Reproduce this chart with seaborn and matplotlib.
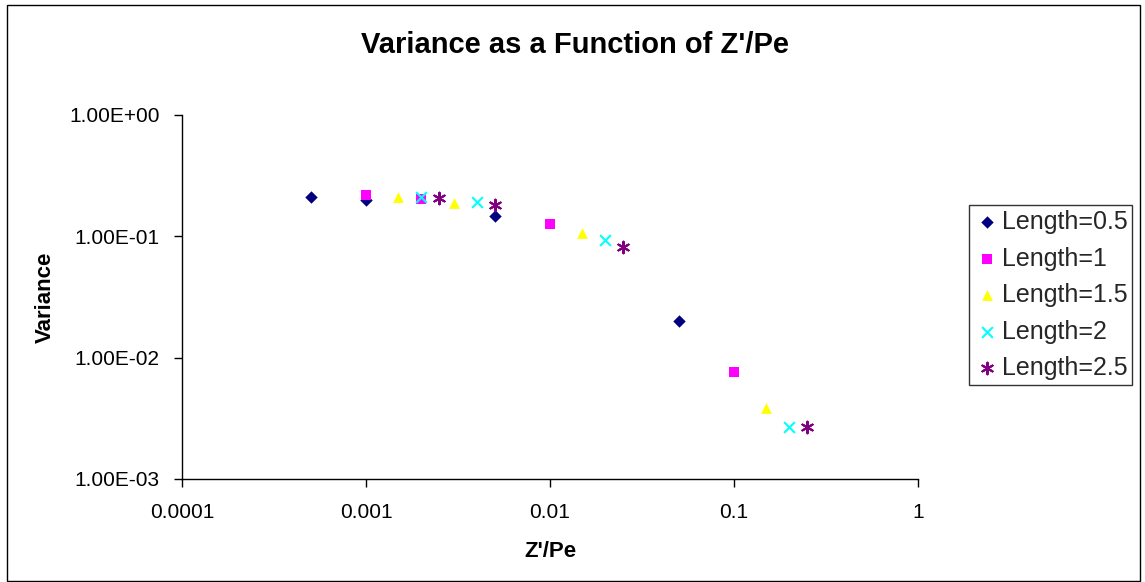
import pandas as pd
import matplotlib.pyplot as plt
import seaborn as sns
from matplotlib.patches import Rectangle
from matplotlib.ticker import FixedLocator, FuncFormatter, NullLocator

# Values
zpe_05 = [0.0005, 0.001, 0.005, 0.05]
var_05 = [0.211, 0.199, 0.147, 0.020]
zpe_1 = [0.001, 0.002, 0.01, 0.1]
var_1 = [0.219, 0.203, 0.126, 0.0076]
zpe_15 = [0.0015, 0.003, 0.015, 0.15]
var_15 = [0.211, 0.188, 0.106, 0.00385]
zpe_2 = [0.002, 0.004, 0.02, 0.2]
var_2 = [0.211, 0.192, 0.093, 0.00268]
zpe_25 = [0.0025, 0.005, 0.025, 0.25]
var_25 = [0.207, 0.181, 0.0816, 0.00268]

series = ["Length=0.5", "Length=1", "Length=1.5", "Length=2", "Length=2.5"]
xs = [zpe_05, zpe_1, zpe_15, zpe_2, zpe_25]
ys = [var_05, var_1, var_15, var_2, var_25]

df = pd.concat(
    [pd.DataFrame({"Z'/Pe": x, "Variance": y, "Series": s}) for s, x, y in zip(series, xs, ys)],
    ignore_index=True,
)

sns.set_theme(style="white")
plt.rcParams['font.family'] = ['Liberation Sans', 'DejaVu Sans']

palette = dict(zip(series, ["#000080", "#FF00FF", "#FFFF00", "#00FFFF", "#800080"]))
markers = dict(zip(series, ["D", "s", "^", "x", (6, 2, 0)]))
sizes = {"Length=0.5": 40, "Length=1": 45, "Length=1.5": 60, "Length=2": 60, "Length=2.5": 70}

fig = plt.figure(figsize=(11.45, 5.82), dpi=100)
ax = fig.add_axes([182 / 1145, 1 - 479 / 582, (918 - 182) / 1145, (479 - 115) / 582])

for s in series:
    sub = df[df["Series"] == s]
    sns.scatterplot(data=sub, x="Z'/Pe", y="Variance", color=palette[s], marker=markers[s],
                    s=sizes[s], linewidth=1.5 if s in ("Length=2", "Length=2.5") else 0,
                    edgecolor=palette[s], label=s, ax=ax)

ax.set_xscale("log")
ax.set_yscale("log")
ax.set_xlim(0.0001, 1)
ax.set_ylim(0.001, 1)

ax.xaxis.set_major_locator(FixedLocator([0.0001, 0.001, 0.01, 0.1, 1]))
ax.xaxis.set_minor_locator(NullLocator())
ax.xaxis.set_major_formatter(FuncFormatter(lambda v, p: f"{v:g}" if v >= 0.001 else "0.0001"))
ax.yaxis.set_major_locator(FixedLocator([0.001, 0.01, 0.1, 1]))
ax.yaxis.set_minor_locator(NullLocator())
ax.yaxis.set_major_formatter(FuncFormatter(lambda v, p: f"{v:.2E}"))

for side in ["top", "right"]:
    ax.spines[side].set_visible(False)
for side in ["left", "bottom"]:
    ax.spines[side].set_color("black")
    ax.spines[side].set_linewidth(1)
ax.tick_params(axis="both", which="major", direction="out", length=6, width=1,
               color="black", labelsize=15, labelcolor="black", bottom=True, left=True)
ax.tick_params(axis="x", pad=11)
ax.tick_params(axis="y", pad=10)

ax.set_xlabel("Z'/Pe", fontsize=16, fontweight="bold", labelpad=14, color="black")
ax.set_ylabel("Variance", fontsize=16, fontweight="bold", labelpad=10, color="black")
fig.text(575 / 1145, 1 - 45 / 582, "Variance as a Function of Z'/Pe",
         ha="center", va="center", fontsize=21, fontweight="bold", color="black")

leg = ax.legend(loc="upper left", bbox_to_anchor=(969 / 1145, 1 - 205 / 582),
                bbox_transform=fig.transFigure, fancybox=False, frameon=True,
                edgecolor="black", fontsize=18, handletextpad=0.1, borderpad=0.2,
                borderaxespad=0, handlelength=1.0, labelspacing=0.5, markerscale=1.0)
leg.get_frame().set_linewidth(1)

fig.patches.append(Rectangle((7 / 1145, 0.002), 1133 / 1145, 1 - 5 / 582 - 0.002,
                             transform=fig.transFigure, fill=False, edgecolor="black", linewidth=1))

fig.savefig("out.png", dpi=100)
